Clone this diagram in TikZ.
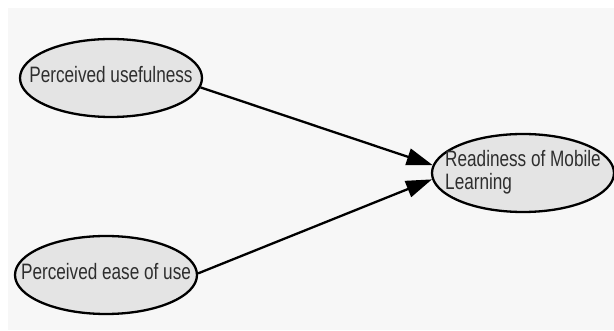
\documentclass[tikz,border=0pt]{standalone}
\usepackage{fontspec}
\setmainfont{Liberation Sans}
\newfontfamily\narrowsans[FakeStretch=0.77]{Liberation Sans}
\usepackage{tikz}
\usetikzlibrary{arrows.meta}
\usetikzlibrary{shapes.geometric}

\definecolor{backgray}{HTML}{F7F7F7}
\definecolor{nodegray}{HTML}{E4E4E4}
\definecolor{textgray}{HTML}{2E2E2E}

% text that does not widen the ellipse
\newcommand{\flattext}[1]{\makebox[0pt]{\begin{tabular}{@{}l@{}}#1\end{tabular}}}

\begin{document}
\begin{tikzpicture}[x=1pt, y=-1pt, line width=2.3pt,
        construct_style/.style={ellipse,draw=black,fill=nodegray,text=textgray,inner sep=0pt,
            minimum width=182pt,minimum height=78pt,font=\narrowsans\fontsize{22.3}{22}\selectfont},
        path_style/.style={draw=black,-{Triangle[length=26pt,width=17pt]}}]

        \useasboundingbox (0,0) rectangle (614,331);
        \fill [backgray] (8,8) rectangle (614,330);

        \node [construct_style](pu) at (111,78) {\flattext{Perceived usefulness}};
        \node [construct_style](pe) at (106,275) {\flattext{Perceived ease of use}};
        \node [construct_style](rml) at (523,173) {\flattext{Readiness of Mobile\\Learning}};
        \draw [path_style] (pu.-6) -- (rml.175.5);
        \draw [path_style] (pe.1) -- (rml.184.5);
        \end{tikzpicture}
\end{document}
